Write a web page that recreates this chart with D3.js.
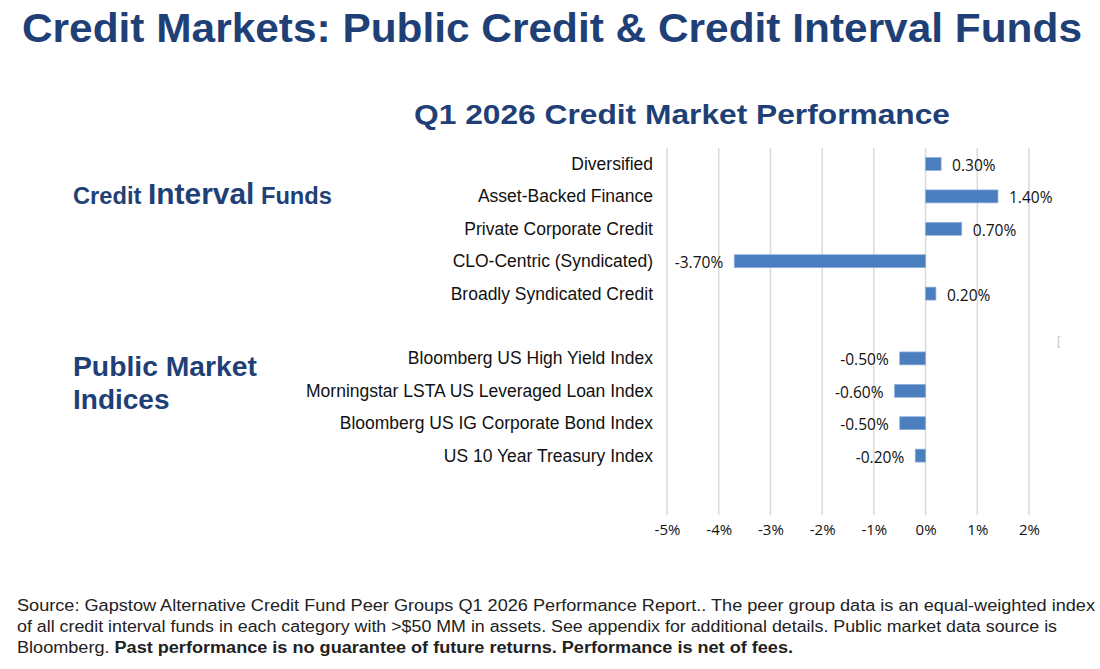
<!DOCTYPE html>
<html>
<head>
<meta charset="utf-8">
<script src="https://cdn.jsdelivr.net/npm/d3@7"></script>
<style>
  body { margin: 0; background: #fff; }
  svg { display: block; }
</style>
</head>
<body>
<div id="chart"></div>
<script>
// categorias y valores (%), "" = hueco entre grupos
const categories = [
  "Diversified", "Asset-Backed Finance", "Private Corporate Credit",
  "CLO-Centric (Syndicated)", "Broadly Syndicated Credit", "",
  "Bloomberg US High Yield Index", "Morningstar LSTA US Leveraged Loan Index",
  "Bloomberg US IG Corporate Bond Index", "US 10 Year Treasury Index"
];
const values = [0.3, 1.4, 0.7, -3.7, 0.2, null, -0.5, -0.6, -0.5, -0.2];
const xTicks = [-5, -4, -3, -2, -1, 0, 1, 2];

const W = 1100, H = 669;
const navy = "#1f3f77";

const svg = d3.select("#chart").append("svg")
    .attr("width", W)
    .attr("height", H);

// titulo principal
svg.append("text")
    .attr("x", 22).attr("y", 42)
    .attr("font-family", "Liberation Sans, Arial")
    .attr("font-weight", "bold")
    .attr("font-size", 40)
    .attr("textLength", 1060)
    .attr("lengthAdjust", "spacingAndGlyphs")
    .style("fill", navy)
    .text("Credit Markets: Public Credit & Credit Interval Funds");

svg.append("text")
    .attr("x", 414).attr("y", 124)
    .attr("font-family", "Liberation Sans, Arial")
    .attr("font-weight", "bold")
    .attr("font-size", 28)
    .attr("textLength", 536)
    .attr("lengthAdjust", "spacingAndGlyphs")
    .style("fill", navy)
    .text("Q1 2026 Credit Market Performance");

// etiquetas de grupo a la izquierda
const grp = svg.append("text")
    .attr("x", 73).attr("y", 204)
    .attr("font-family", "Liberation Sans, Arial")
    .attr("font-weight", "bold")
    .attr("textLength", 259)
    .attr("lengthAdjust", "spacingAndGlyphs")
    .style("fill", navy);
grp.append("tspan").attr("font-size", 23).text("Credit ");
grp.append("tspan").attr("font-size", 29).text("Interval");
grp.append("tspan").attr("font-size", 23).text(" Funds");

svg.append("text")
    .attr("x", 73).attr("y", 376)
    .attr("font-family", "Liberation Sans, Arial")
    .attr("font-weight", "bold")
    .attr("font-size", 28)
    .attr("textLength", 184)
    .attr("lengthAdjust", "spacingAndGlyphs")
    .style("fill", navy)
    .text("Public Market");
svg.append("text")
    .attr("x", 73).attr("y", 409)
    .attr("font-family", "Liberation Sans, Arial")
    .attr("font-weight", "bold")
    .attr("font-size", 28)
    .style("fill", navy)
    .text("Indices");

// escalas
const x = d3.scaleLinear().domain([-5, 2]).range([667, 1029]);
const y = d3.scaleBand()
    .domain(categories.map((c, i) => i))
    .range([147.8, 147.8 + 32.4 * categories.length])
    .paddingInner(0.6)
    .paddingOuter(0.3);

const plotTop = 148, plotBottom = 515;

// lineas de grilla
svg.append("g")
    .selectAll("line")
    .data(xTicks)
    .enter().append("line")
    .attr("x1", d => x(d)).attr("x2", d => x(d))
    .attr("y1", plotTop).attr("y2", plotBottom)
    .style("stroke", "#d9d9d9")
    .style("stroke-width", 1.5);

// eje x
const xAxis = svg.append("g")
    .attr("transform", `translate(0, ${plotBottom})`)
    .call(d3.axisBottom(x).tickValues(xTicks).tickSize(0).tickPadding(9)
        .tickFormat(d => d + "%"));
xAxis.select(".domain").remove();
xAxis.selectAll("text")
    .attr("font-family", "Open Sans, Liberation Sans")
    .style("font-size", "15px")
    .style("fill", "#111");

// barras
const rows = categories.map((c, i) => ({ i, name: c, v: values[i] }));
const bars = rows.filter(d => d.v !== null);

svg.selectAll(".bar")
    .data(bars)
    .enter().append("rect")
    .attr("class", "bar")
    .attr("x", d => x(Math.min(0, d.v)))
    .attr("y", d => y(d.i))
    .attr("width", d => Math.abs(x(d.v) - x(0)))
    .attr("height", y.bandwidth())
    .style("fill", "#4a7ebf")
    .style("stroke", "#8fb0dc")
    .style("stroke-width", 0.7);

// etiquetas de valor
svg.selectAll(".val")
    .data(bars)
    .enter().append("text")
    .attr("class", "val")
    .attr("x", d => d.v >= 0 ? x(d.v) + 11 : x(d.v) - 11)
    .attr("y", d => y(d.i) + y.bandwidth() / 2 + 7)
    .attr("text-anchor", d => d.v >= 0 ? "start" : "end")
    .attr("font-family", "Open Sans, Liberation Sans")
    .style("font-size", "15.5px")
    .style("fill", "#111")
    .text(d => d.v.toFixed(2) + "%");

// etiquetas de categoria
svg.selectAll(".cat")
    .data(rows.filter(d => d.name !== ""))
    .enter().append("text")
    .attr("class", "cat")
    .attr("x", 653)
    .attr("y", d => y(d.i) + y.bandwidth() / 2 + 6)
    .attr("text-anchor", "end")
    .attr("font-family", "Liberation Sans, Arial")
    .style("font-size", "17.5px")
    .style("fill", "#111")
    .text(d => d.name);

// marca suelta del original
svg.append("text")
    .attr("x", 1057).attr("y", 345)
    .attr("font-family", "Liberation Sans")
    .style("font-size", "12px")
    .style("fill", "#c8c8c8")
    .text("[");

// nota al pie
const foot = [
  { t: "Source: Gapstow Alternative Credit Fund Peer Groups Q1 2026 Performance Report.. The peer group data is an equal-weighted index", len: 1078 },
  { t: "of all credit interval funds in each category with >$50 MM in assets. See appendix for additional details. Public market data source is", len: 1040 }
];
foot.forEach((f, k) => {
  svg.append("text")
      .attr("x", 17).attr("y", 611 + k * 21)
      .attr("font-family", "Liberation Sans, Arial")
      .attr("font-size", 16)
      .attr("textLength", f.len)
      .attr("lengthAdjust", "spacingAndGlyphs")
      .style("fill", "#222")
      .text(f.t);
});
const last = svg.append("text")
    .attr("x", 17).attr("y", 653)
    .attr("font-family", "Liberation Sans, Arial")
    .attr("font-size", 16)
    .attr("textLength", 776)
    .attr("lengthAdjust", "spacingAndGlyphs")
    .style("fill", "#222");
last.append("tspan").text("Bloomberg. ");
last.append("tspan").attr("font-weight", "bold")
    .text("Past performance is no guarantee of future returns. Performance is net of fees.");
</script>
</body>
</html>
